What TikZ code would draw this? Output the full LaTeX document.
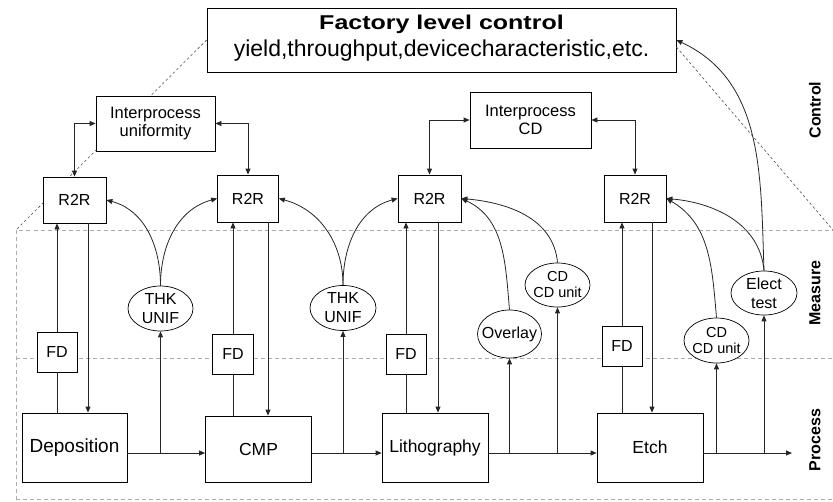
\documentclass[tikz,border=0pt]{standalone}
\usepackage{fontspec}
\setmainfont{Liberation Sans}
\usetikzlibrary{arrows.meta,shapes.geometric}

\tikzset{
	box/.style={draw, fill=white, line width=0.8pt, inner sep=2pt},
	proc/.style={box, minimum width=106, minimum height=69, font=\fontsize{17.5}{20}\selectfont},
	meas/.style={draw, fill=white, ellipse, line width=0.7pt, inner sep=-8pt, minimum width=65, minimum height=45, align=center},
	zone/.style={draw=gray!65, dash pattern=on 4pt off 3pt, line width=0.9pt},
	diag/.style={draw=black!70, dash pattern=on 2.5pt off 2.5pt, line width=0.6pt},
	side/.style={rotate=90, font=\bfseries\fontsize{16}{18}\selectfont},
	link/.style={draw=black!85, line width=0.8pt},
}

\begin{document}
\begin{tikzpicture}[x=1pt, y=-1pt, >={Triangle[length=6pt,width=5pt]}, font=\fontsize{16}{19}\selectfont]
		\useasboundingbox (0,0) rectangle (833,501);

		\coordinate (zl) at (16,230);
		\coordinate (zr) at (833,230);
		\coordinate (zml) at (16,358);
		\coordinate (zmr) at (833,358);
		\coordinate (zbl) at (16,499.5);
		\coordinate (zbr) at (833,499.5);
		\draw[zone] (zbl) -- (zl) -- (zr);
		\draw[zone] (zml) -- (zmr);
		\draw[zone] (zbl) -- (zbr);

		\node[box, minimum width=469, minimum height=64] (fac) at (441.5,40) {};
		\draw[diag] (fac.west) -- (zl);
		\draw[diag] ([yshift=-7pt]fac.east) -- (zr);
		\node[anchor=base, font=\bfseries\fontsize{20}{22}\selectfont] (ftitle) at (441.5,29) {\scalebox{1.25}[1]{Factory level control}};
		\node[anchor=base, font=\fontsize{23}{26}\selectfont] (fsub) at (441.5,56) {yield,throughput,devicecharacteristic,etc.};

		\node[box, minimum width=119, minimum height=55, align=center, font=\fontsize{16.5}{18}\selectfont] (ipu) at (155.5,123.5) {Interprocess\\uniformity};
		\node[box, minimum width=121, minimum height=56, align=center, font=\fontsize{16.5}{18}\selectfont] (ipc) at (530.5,120) {Interprocess\\CD};

		\node[box, minimum width=63, minimum height=46] (r1) at (74.5,200) {R2R};
		\node[box, minimum width=61, minimum height=47] (r2) at (248,198.5) {R2R};
		\node[box, minimum width=63, minimum height=47] (r3) at (429.5,198.5) {R2R};
		\node[box, minimum width=62, minimum height=47] (r4) at (635,198.5) {R2R};

		\node[box, minimum width=40, minimum height=40] (fd1) at (57,352) {FD};
		\node[box, minimum width=41, minimum height=40] (fd2) at (233,354) {FD};
		\node[box, minimum width=40, minimum height=40] (fd3) at (406,354) {FD};
		\node[box, minimum width=40, minimum height=40] (fd4) at (622,346) {FD};

		\node[proc, minimum width=105, font=\fontsize{19}{22}\selectfont] (dep) at (74.5,447.5) {Deposition};
		\node[proc, minimum height=66] (cmp) at (258.5,449) {CMP};
		\node[proc] (lit) at (435,447.5) {Lithography};
		\node[proc] (etch) at (650,447.5) {Etch};

		\node[meas] (t1) at (160.5,308.5) {THK\\UNIF};
		\node[meas, minimum width=66] (t2) at (343,308) {THK\\UNIF};
		\node[meas, minimum width=64, minimum height=48] (ov) at (509.5,334) {Overlay};
		\node[meas, minimum height=44, font=\fontsize{14.5}{16}\selectfont] (cd1) at (557.5,285) {CD\\CD unit};
		\node[meas, font=\fontsize{14.5}{16}\selectfont] (cd2) at (716.5,340.5) {CD\\CD unit};
		\node[meas, minimum width=66, minimum height=44] (el) at (764,293) {Elect\\test};

		\node[side] (lc) at (815,110) {Control};
		\node[side] (lm) at (815,293) {Measure};
		\node[side] (lp) at (815,440) {Process};

		\draw[link,<->] (ipu.west) -| (r1.north);
		\draw[link,<->] (ipu.east) -| (r2.north);
		\draw[link,<->] (ipc.west) -| (r3.north);
		\draw[link,<->] (ipc.east) -| (r4.north);

		\draw[link,->] (fd1.north) -- (fd1.north |- r1.south);
		\draw[link] (fd1.south) -- (fd1.south |- dep.north);
		\draw[link,->] (fd2.north) -- (fd2.north |- r2.south);
		\draw[link] (fd2.south) -- (fd2.south |- cmp.north);
		\draw[link,->] (fd3.north) -- (fd3.north |- r3.south);
		\draw[link] (fd3.south) -- (fd3.south |- lit.north);
		\draw[link,->] (fd4.north) -- (fd4.north |- r4.south);
		\draw[link] (fd4.south) -- (fd4.south |- etch.north);

		\draw[link,->] ([xshift=13.5pt]r1.south) -- ([xshift=13.5pt]r1.south |- dep.north);
		\draw[link,->] ([xshift=20pt]r2.south) -- ([xshift=20pt]r2.south |- cmp.north);
		\draw[link,->] ([xshift=8.5pt]r3.south) -- ([xshift=8.5pt]r3.south |- lit.north);
		\draw[link,->] ([xshift=17pt]r4.south) -- ([xshift=17pt]r4.south |- etch.north);

		\coordinate (pl) at (0,453);
		\coordinate (out) at (792,453);
		\draw[link,->] (dep.east |- pl) -- (cmp.west |- pl);
		\draw[link,->] (cmp.east |- pl) -- (lit.west |- pl);
		\draw[link,->] (lit.east |- pl) -- (etch.west |- pl);
		\draw[link,->] (etch.east |- pl) -- (out);

		\draw[link,->] (t1 |- pl) -- (t1.south);
		\draw[link,->] (t2 |- pl) -- (t2.south);
		\draw[link,->] (ov |- pl) -- (ov.south);
		\draw[link,->] (cd1 |- pl) -- (cd1.south);
		\draw[link,->] (cd2 |- pl) -- (cd2.south);
		\draw[link,->] (el |- pl) -- (el.south);

		\draw[link,->] (t1.north) to[out=90,in=-15] (r1.east);
		\draw[link,->] (t1.north) to[out=90,in=195] (r2.west);
		\draw[link,->] (t2.north) to[out=90,in=-15] (r2.east);
		\draw[link,->] (t2.north) to[out=90,in=195] (r3.west);
		\draw[link,->] (ov.north) to[out=95,in=-25] (r3.east);
		\draw[link,->] (cd1.north) to[out=95,in=-5] (r3.east);
		\draw[link,->] (cd2.north) to[out=95,in=-30] (r4.east);
		\draw[link,->] (el.north) to[out=95,in=-5] (r4.east);
		\draw[link,->] (el.north) to[out=92,in=-25] (fac.east);
\end{tikzpicture}
\end{document}
